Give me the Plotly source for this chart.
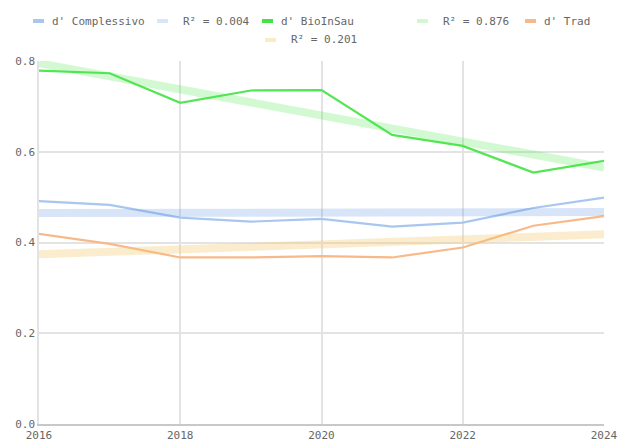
import plotly.graph_objects as go

years = [2016, 2017, 2018, 2019, 2020, 2021, 2022, 2023, 2024]

d_complessivo = [0.491, 0.483, 0.455, 0.446, 0.452, 0.435, 0.444, 0.476, 0.499]
d_bioinsau = [0.779, 0.773, 0.708, 0.735, 0.736, 0.637, 0.613, 0.554, 0.580]
d_trad = [0.419, 0.397, 0.367, 0.367, 0.370, 0.367, 0.389, 0.437, 0.458]

# trend lines, start/end values
trend_years = [2016, 2024]
trend_complessivo = [0.465, 0.467]
trend_bioinsau = [0.795, 0.565]
trend_trad = [0.374, 0.418]

legend_labels = ["d' Complessivo", "R² = 0.004", "d' BioInSau",
                 "R² = 0.876", "d' Trad", "R² = 0.201"]

FONT = "DejaVu Sans Mono"
TEXT = "#666666"

# page body adds an 8px margin, so the figure is a bit smaller than the window
W, H = 626, 434
ML, MR, MT, MB = 31, 30, 53, 18

fig = go.Figure()

series = [
    ("d' Complessivo", d_complessivo, "#a9c6ee"),
    ("d' BioInSau", d_bioinsau, "#52e652"),
    ("d' Trad", d_trad, "#f8b98a"),
]
trends = [
    (trend_complessivo, "rgba(100,150,230,0.25)", 8),
    (trend_bioinsau, "rgba(80,230,80,0.25)", 8),
    (trend_trad, "rgba(240,200,110,0.35)", 8),
]

for name, vals, color in series:
    fig.add_trace(go.Scatter(x=years, y=vals, mode="lines", name=name,
                             line=dict(color=color, width=2.2)))

for vals, color, width in trends:
    fig.add_trace(go.Scatter(x=trend_years, y=vals, mode="lines",
                             line=dict(color=color, width=width),
                             showlegend=False, hoverinfo="skip"))


# screen pixel -> paper coords (plot box is 39..604 x 61..424 on screen)
def px_x(p):
    return (p - 39) / 565


def px_y(p):
    return (424 - p) / 363


# hand-placed legend like the original chart
legend_items = [
    (33, 21, "#a9c6ee", legend_labels[0]),
    (157, 21, "#d9e6f9", legend_labels[1]),
    (262, 21, "#44e444", legend_labels[2]),
    (417, 21, "#d2f7d2", legend_labels[3]),
    (525, 21, "#f8b98a", legend_labels[4]),
    (265, 40, "#f9ebc6", legend_labels[5]),
]
for x0, yc, color, label in legend_items:
    fig.add_shape(type="rect", xref="paper", yref="paper",
                  x0=px_x(x0), x1=px_x(x0 + 11),
                  y0=px_y(yc + 2), y1=px_y(yc - 2),
                  fillcolor=color, line=dict(width=0))
    gap = 17 if label.startswith("d'") else 24
    fig.add_annotation(x=px_x(x0 + gap), y=px_y(yc), xref="paper", yref="paper",
                       text=label, showarrow=False, xanchor="left", yanchor="middle",
                       font=dict(family=FONT, size=11, color=TEXT))

fig.update_xaxes(range=[2016, 2024], tickvals=[2016, 2018, 2020, 2022, 2024],
                 showgrid=True, gridcolor="#e3e3e3", gridwidth=1.5,
                 showline=True, linecolor="#c8c8c8", linewidth=2,
                 zeroline=False, ticks="", automargin=False,
                 tickfont=dict(family=FONT, size=11, color=TEXT))
fig.update_yaxes(range=[0, 0.8], tickvals=[0, 0.2, 0.4, 0.6, 0.8], tickformat=".1f",
                 showgrid=True, gridcolor="#e3e3e3", gridwidth=1.5,
                 showline=True, linecolor="#e3e3e3", linewidth=1.5,
                 zeroline=False, ticks="", automargin=False,
                 tickfont=dict(family=FONT, size=11, color=TEXT))

fig.update_layout(
    width=W, height=H,
    margin=dict(l=ML, r=MR, t=MT, b=MB),
    paper_bgcolor="white", plot_bgcolor="white",
    showlegend=False,
    font=dict(family=FONT, size=11, color=TEXT),
)

fig.write_html("out.html")
